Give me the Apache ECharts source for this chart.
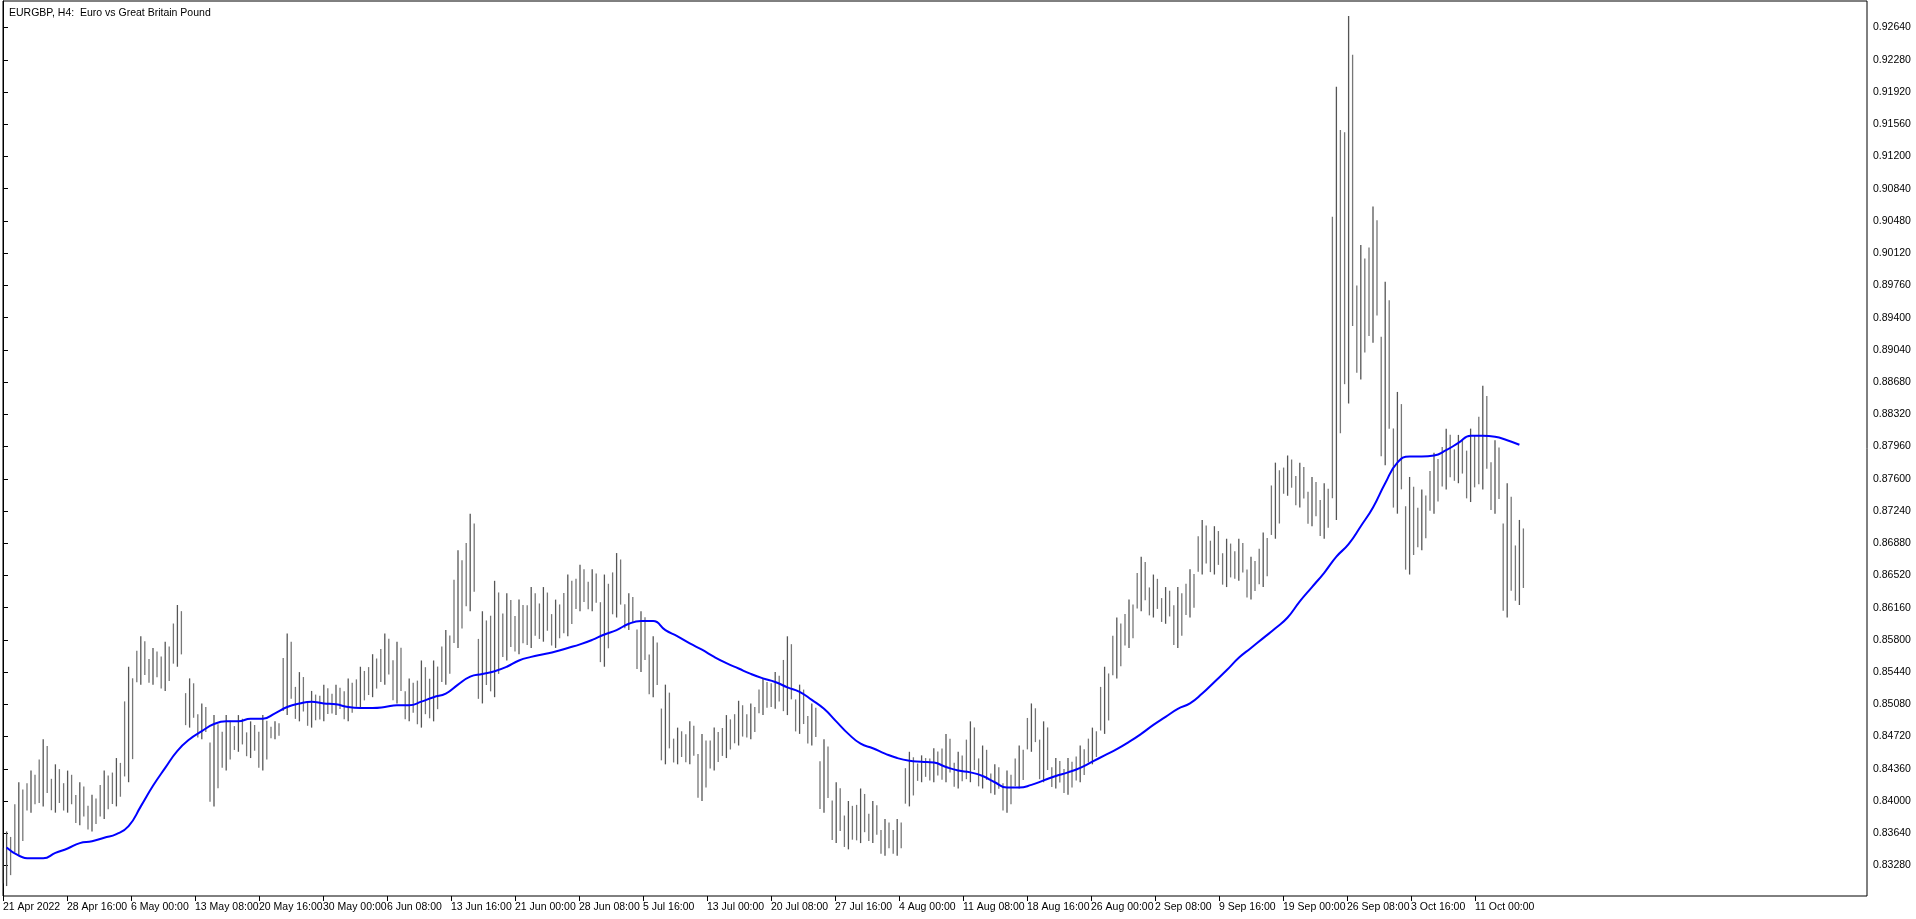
<!DOCTYPE html>
<html>
<head>
<meta charset="utf-8">
<script src="https://cdn.jsdelivr.net/npm/echarts@6/dist/echarts.min.js"></script>
<style>html,body{margin:0;padding:0;background:#fff}#chart{width:1916px;height:919px}</style>
</head>
<body>
<div id="chart"></div>
<script>
// daily high / low (one entry per ~6 H4 bars)
var highs = [.8366,.8421,.8434,.8469,.8441,.8434,.8421,.8407,.8434,.8448,
  .8550,.8584,.8571,.8578,.8619,.8537,.8509,.8496,.8496,.8496,
  .8489,.8496,.8489,.8587,.8544,.8523,.8530,.8530,.8537,.8550,
  .8564,.8587,.8578,.8537,.8557,.8557,.8591,.8680,.8721,.8612,
  .8646,.8632,.8625,.8639,.8639,.8625,.8653,.8664,.8659,.8653,
  .8677,.8632,.8612,.8584,.8530,.8482,.8489,.8475,.8482,.8496,
  .8512,.8509,.8537,.8544,.8584,.8530,.8509,.8469,.8421,.8400,
  .8414,.8400,.8380,.8380,.8455,.8451,.8459,.8475,.8455,.8489,
  .8462,.8441,.8434,.8462,.8509,.8489,.8448,.8448,.8462,.8482,
  .8550,.8605,.8625,.8673,.8653,.8639,.8639,.8659,.8714,.8707,
  .8693,.8693,.8673,.8700,.8778,.8786,.8778,.8762,.8755,.9198,
  .9277,.9021,.9064,.8980,.8857,.8762,.8748,.8789,.8816,.8809,
  .8816,.8864,.8803,.8755,.8714];
var lows = [.8305,.8339,.8387,.8394,.8387,.8387,.8373,.8366,.8380,.8394,
  .8421,.8530,.8530,.8523,.8550,.8482,.8469,.8394,.8434,.8455,
  .8448,.8434,.8469,.8496,.8489,.8482,.8489,.8496,.8489,.8503,
  .8516,.8530,.8509,.8489,.8482,.8489,.8530,.8571,.8612,.8509,
  .8516,.8557,.8564,.8571,.8578,.8571,.8584,.8612,.8612,.8550,
  .8605,.8591,.8544,.8516,.8441,.8441,.8441,.8400,.8434,.8448,
  .8462,.8469,.8496,.8503,.8496,.8475,.8462,.8387,.8353,.8346,
  .8353,.8353,.8339,.8339,.8394,.8421,.8421,.8421,.8414,.8421,
  .8414,.8407,.8387,.8414,.8455,.8421,.8414,.8407,.8421,.8441,
  .8475,.8537,.8571,.8612,.8605,.8598,.8571,.8605,.8653,.8653,
  .8639,.8646,.8625,.8639,.8693,.8741,.8728,.8707,.8693,.8714,
  .8844,.8871,.8912,.8775,.8721,.8653,.8680,.8721,.8748,.8755,
  .8734,.8748,.8721,.8605,.8619];
// moving average (blue line), same spacing
var maValues = [.8348,.8339,.8336,.8336,.8342,.8347,.8353,.8355,.8359,.8363,
  .8372,.8394,.8417,.8437,.8456,.8469,.8478,.8486,.8489,.8489,
  .8492,.8492,.8498,.8505,.8509,.8511,.8509,.8508,.8505,.8504,
  .8504,.8505,.8507,.8507,.8511,.8516,.8520,.8530,.8539,.8542,
  .8545,.8550,.8557,.8561,.8564,.8567,.8571,.8575,.8580,.8586,
  .8591,.8598,.8601,.8601,.8591,.8584,.8576,.8569,.8561,.8554,
  .8548,.8542,.8537,.8533,.8527,.8522,.8513,.8503,.8489,.8475,
  .8464,.8459,.8453,.8448,.8445,.8444,.8443,.8438,.8434,.8432,
  .8428,.8421,.8415,.8415,.8418,.8423,.8428,.8432,.8437,.8444,
  .8451,.8458,.8466,.8475,.8485,.8494,.8503,.8509,.8520,.8533,
  .8546,.8560,.8571,.8582,.8593,.8605,.8623,.8639,.8655,.8673,
  .8687,.8707,.8728,.8755,.8778,.8785,.8785,.8786,.8792,.8800,
  .8808,.8808,.8807,.8803,.8798];
var timeLabels = ['21 Apr 2022','28 Apr 16:00','6 May 00:00','13 May 08:00','20 May 16:00',
  '30 May 00:00','6 Jun 08:00','13 Jun 16:00','21 Jun 00:00','28 Jun 08:00','5 Jul 16:00',
  '13 Jul 00:00','20 Jul 08:00','27 Jul 16:00','4 Aug 00:00','11 Aug 08:00','18 Aug 16:00',
  '26 Aug 00:00','2 Sep 08:00','9 Sep 16:00','19 Sep 00:00','26 Sep 08:00','3 Oct 16:00','11 Oct 00:00'];
var priceTicks = [];
for (var k = 0; k <= 26; k++) priceTicks.push(+(0.8328 + k * 0.0036).toFixed(5));

var BARS_PER_ENTRY = 6.1;   // H4 bars covered by one entry
function pos(i) { return i * BARS_PER_ENTRY + 1.8; }

var hlData = highs.map(function (h, i) { return [pos(i), lows[i], h]; });
var maData = maValues.map(function (v, i) { return [pos(i), v]; });
var xTicks = timeLabels.map(function (t, i) { return i * 32; });

var myChart = echarts.init(document.getElementById('chart'));
var option = {
  backgroundColor: '#fff',
  animation: false,
  title: {
    text: 'EURGBP, H4:  Euro vs Great Britain Pound',
    left: 4, top: 3,
    textStyle: { fontSize: 10.5, fontWeight: 'normal', color: '#000', fontFamily: 'Liberation Sans' }
  },
  grid: { left: 1, right: 49, top: 1, bottom: 23, show: true, borderColor: '#000', borderWidth: 1 },
  xAxis: {
    type: 'value', min: 0, max: 932,
    splitLine: { show: false },
    axisLine: { show: false },
    axisTick: { show: true, length: 5, lineStyle: { color: '#000' }, customValues: xTicks },
    axisLabel: {
      customValues: xTicks, showMinLabel: true, hideOverlap: false,
      fontSize: 10.5, color: '#000', fontFamily: 'Liberation Sans', align: 'left', margin: 6,
      formatter: function (v) { return timeLabels[Math.round(v / 32)] || ''; }
    }
  },
  yAxis: {
    type: 'value', position: 'right', min: 0.82939, max: 0.92937,
    splitLine: { show: false },
    axisLine: { show: true, lineStyle: { color: '#000' } },
    axisTick: { show: true, length: 5, lineStyle: { color: '#000' }, customValues: priceTicks },
    axisLabel: {
      customValues: priceTicks, fontSize: 10.5, color: '#000', fontFamily: 'Liberation Sans', margin: 6,
      formatter: function (v) { return v.toFixed(5); }
    }
  },
  series: [
    {
      type: 'custom',
      data: hlData,
      encode: { x: 0, y: [1, 2] },
      renderItem: function (params, api) {
        var lo = api.coord([api.value(0), api.value(1)]);
        var hi = api.coord([api.value(0), api.value(2)]);
        var h = lo[1] - hi[1];
        return {
          type: 'group',
          children: [
            { type: 'line', shape: { x1: lo[0] - 4, y1: lo[1] - h * 0.05, x2: lo[0] - 4, y2: hi[1] + h * 0.3 },
              style: { stroke: '#777', lineWidth: 1.3 } },
            { type: 'line', shape: { x1: lo[0], y1: lo[1], x2: hi[0], y2: hi[1] },
              style: { stroke: '#555', lineWidth: 1.3 } },
            { type: 'line', shape: { x1: lo[0] + 4, y1: lo[1] - h * 0.2, x2: lo[0] + 4, y2: hi[1] + h * 0.1 },
              style: { stroke: '#777', lineWidth: 1.3 } }
          ]
        };
      }
    },
    {
      type: 'line',
      data: maData,
      showSymbol: false,
      smooth: true,
      lineStyle: { color: '#0000ff', width: 2 }
    }
  ]
};
myChart.setOption(option);
</script>
</body>
</html>
